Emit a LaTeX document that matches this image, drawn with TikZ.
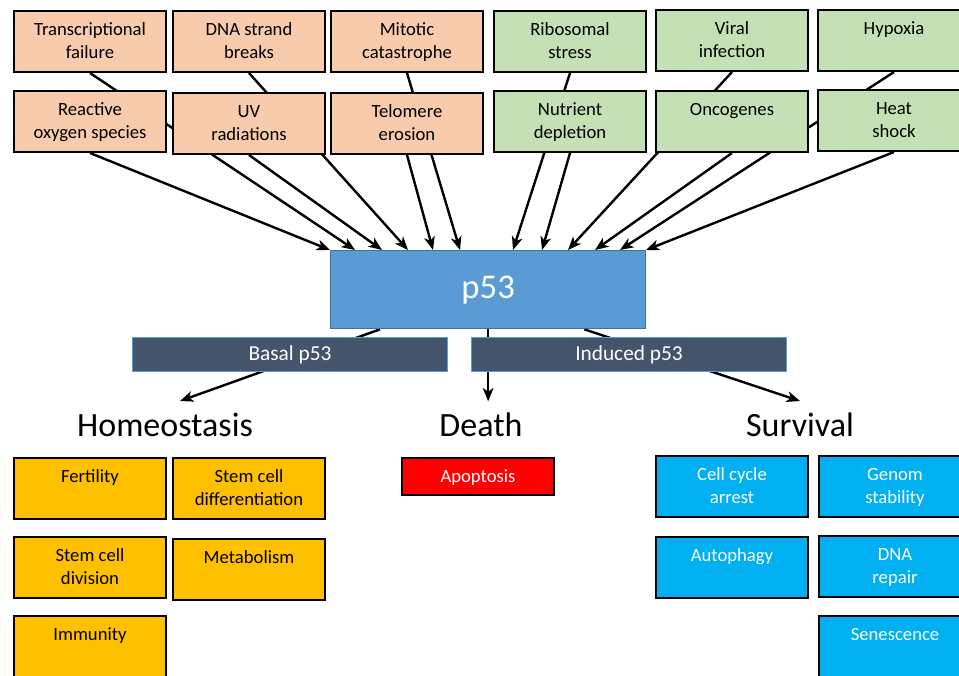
\documentclass[tikz,border=0pt]{standalone}
\usepackage{fontspec}
\setmainfont{Carlito}
\usetikzlibrary{arrows.meta,positioning,calc,backgrounds}

\definecolor{peach}{HTML}{F8CBAD}
\definecolor{leaf}{HTML}{C5E0B4}
\definecolor{amber}{HTML}{FFC000}
\definecolor{sky}{HTML}{00B0F0}
\definecolor{pblue}{HTML}{5B9BD5}
\definecolor{pedge}{HTML}{41719C}
\definecolor{slate}{HTML}{44546A}

\tikzset{
  box/.style={draw=black, line width=1.5pt, inner sep=0pt, anchor=north west,
    minimum width=114pt, minimum height=#1,
    execute at begin node={\begin{minipage}[t][#1][t]{112pt}\centering
      \fontsize{14}{17}\selectfont\rule{0pt}{18.5pt}},
    execute at end node={\end{minipage}}},
  box/.default=45.75pt,
  arr/.style={-{Stealth[length=10pt,width=8pt,inset=2.8pt]}, line width=1.8pt},
  bar/.style={draw=pblue, line width=1pt, fill=slate, text=white, anchor=north west,
    minimum width=236pt, minimum height=25.5pt, font=\fontsize{16}{19}\selectfont},
  outcome/.style={anchor=base, font=\fontsize{25.5}{30}\selectfont},
}

\begin{document}
\begin{tikzpicture}[x=0.75pt, y=-0.75pt]
  \useasboundingbox (0,0) rectangle (959,675);
  \clip (0,0) rectangle (959,675);

  % stresses
  \node[box, fill=peach] (transcr)  at (13,10)  {Transcriptional\\failure};
  \node[box, fill=peach] (dnabreak) at (172,10) {DNA strand\\breaks};
  \node[box, fill=peach] (mitotic)  at (330,10) {Mitotic\\catastrophe};
  \node[box, fill=leaf]  (ribo)     at (493,10) {Ribosomal\\stress};
  \node[box, fill=leaf]  (viral)    at (655,9)  {Viral\\infection};
  \node[box, fill=leaf]  (hypoxia)  at (817,9)  {Hypoxia};

  \node[box, fill=peach] (ros)      at (13,90)  {Reactive\\oxygen species};
  \node[box, fill=peach] (uv)       at (172,92) {UV\\radiations};
  \node[box, fill=peach] (telomere) at (330,92) {Telomere\\erosion};
  \node[box, fill=leaf]  (nutrient) at (493,90) {Nutrient\\depletion};
  \node[box, fill=leaf]  (onco)     at (655,90) {Oncogenes};
  \node[box, fill=leaf]  (heat)     at (817,89) {Heat\\shock};

  % p53
  \node[draw=pedge, line width=1pt, fill=pblue, text=white, anchor=north west,
        minimum width=236.25pt, minimum height=58.5pt,
        font=\fontsize{26}{31}\selectfont] (p53) at (330,250) {p53};
  \node[bar] (basal)   at (132,337) {Basal p53};
  \node[bar] (induced) at (471,337) {Induced p53};

  % outcomes
  \node[outcome] (homeo)    at (165,436) {Homeostasis};
  \node[outcome] (death)    at (481,436) {Death};
  \node[outcome] (survival) at (800,436) {Survival};

  \node[box, fill=amber] (fert)     at (13,457)  {Fertility};
  \node[box, fill=amber] (stemdiff) at (172,457) {Stem cell\\differentiation};
  \node[box, fill=amber] (stemdiv)  at (13,536)  {Stem cell\\division};
  \node[box, fill=amber] (metab)    at (172,538) {Metabolism};
  \node[box, fill=amber] (immun)    at (13,615)  {Immunity};

  \node[box=27.75pt, fill=red, text=white] (apop) at (401,457) {Apoptosis};

  \node[box, fill=sky, text=white] (cycle)  at (655,455) {Cell cycle\\arrest};
  \node[box, fill=sky, text=white] (genom)  at (818,455) {Genom\\stability};
  \node[box, fill=sky, text=white] (autoph) at (655,536) {Autophagy};
  \node[box, fill=sky, text=white] (repair) at (818,535) {DNA\\repair};
  \node[box, fill=sky, text=white] (senesc) at (818,615) {Senescence};

  \begin{scope}[on background layer]
    \foreach \src/\dx in {ros/0, transcr/25, uv/52, dnabreak/78, telomere/103,
        mitotic/130, ribo/183, nutrient/212, viral/238, onco/265, hypoxia/290, heat/316}
      \draw[arr] (\src.south) -- ($(p53.north west)+(\dx,0)$);
    \draw[arr] ($(p53.south west)+(50,0)$) -- ($(homeo.base)+(15,-35)$);
    \draw[arr] (p53.south) -- ($(p53.south)+(0,72)$);
    \draw[arr] ($(p53.south east)+(-62,0)$) -- ($(survival.base)+(0,-35)$);
  \end{scope}
\end{tikzpicture}
\end{document}
